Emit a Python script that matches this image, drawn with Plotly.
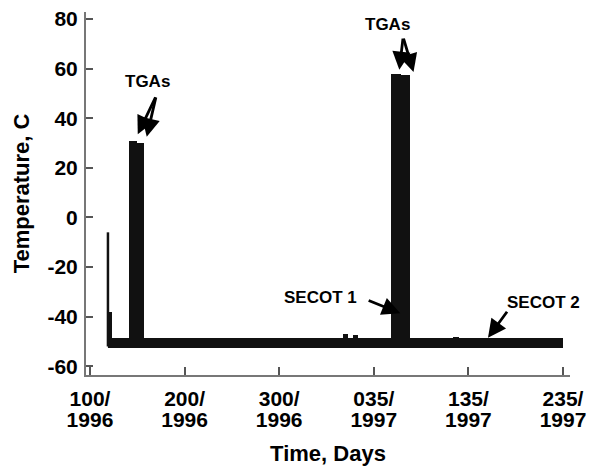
import plotly.graph_objects as go

# ---- data ----
tick_days = [100, 200, 300, 400, 500, 600]
tick_day_text = ["100/", "200/", "300/", "035/", "135/", "235/"]
tick_year_text = ["1996", "1996", "1996", "1997", "1997", "1997"]
y_ticks = [-60, -40, -20, 0, 20, 40, 60, 80]
y_tick_text = ["-60", "-40", "-20", "0", "20", "40", "60", "80"]

baseline_days = [119, 600]
baseline_temp = [-50.6, -50.6]

spike_days = [119, 119]
spike_temp = [-52, -6]

early_block_day = [121]
early_block_top = [-38]
early_block_width = [4]

tga_days = [145.5, 153.5, 423.5, 433.5]
tga_tops = [31, 30, 58, 57.5]
tga_width = [8, 8, 10, 10]

bump_days = [370, 381, 487, 525]
bump_tops = [-47, -47.5, -48, -48.5]
bump_width = [6, 5, 6, 5]

base_level = -52

FONT = "Liberation Sans, Arial, sans-serif"
INK = "#111"

fig = go.Figure()
fig.add_trace(go.Scatter(x=baseline_days, y=baseline_temp, mode="lines",
                         line=dict(color=INK, width=10), showlegend=False))
fig.add_trace(go.Scatter(x=spike_days, y=spike_temp, mode="lines",
                         line=dict(color=INK, width=2.5), showlegend=False))
fig.add_trace(go.Bar(x=early_block_day, y=[t - base_level for t in early_block_top], base=base_level,
                     width=early_block_width, marker=dict(color=INK, line=dict(width=0)), showlegend=False))
fig.add_trace(go.Bar(x=tga_days, y=[t - base_level for t in tga_tops], base=base_level,
                     width=tga_width, marker=dict(color=INK, line=dict(width=0)), showlegend=False))
fig.add_trace(go.Bar(x=bump_days, y=[t - base_level for t in bump_tops], base=base_level,
                     width=bump_width, marker=dict(color=INK, line=dict(width=0)), showlegend=False))
# invisible trace so the year-label axis is drawn
fig.add_trace(go.Scatter(x=baseline_days, y=baseline_temp, xaxis="x2", mode="lines",
                         line=dict(width=0, color="rgba(0,0,0,0)"), hoverinfo="skip", showlegend=False))

anns = []
def label(x, y, text):
    anns.append(dict(x=x, y=y, xref="x", yref="y", text="<b>%s</b>" % text, showarrow=False,
                     font=dict(family=FONT, size=17, color="#000")))
def arrow(x, y, ax, ay):
    anns.append(dict(x=x, y=y, ax=ax, ay=ay, xref="x", yref="y", axref="x", ayref="y",
                     text="", showarrow=True, arrowhead=2, arrowsize=1.3, arrowwidth=2.8,
                     arrowcolor="#000"))

label(161, 54.6, "TGAs")
arrow(150.5, 33.5, 170, 49)
arrow(160, 32.5, 170, 49)
label(415, 77.6, "TGAs")
arrow(427, 59.5, 431, 72.7)
arrow(442, 58.6, 431, 72.7)
label(344, -32.2, "SECOT 1")
arrow(428, -38.6, 393, -33.2)
label(579, -34.2, "SECOT 2")
arrow(520.7, -48.5, 542, -37.4)

xr = [95.8, 607.4]
fig.update_layout(
    width=594, height=466,
    margin=dict(l=86, r=24, t=12, b=91),
    paper_bgcolor="white", plot_bgcolor="white",
    barmode="overlay", bargap=0,
    annotations=anns,
    font=dict(family=FONT, color="#000"),
    xaxis=dict(range=xr, tickvals=tick_days, ticktext=tick_day_text, automargin=False,
               ticks="inside", ticklen=8, tickwidth=1.5, tickcolor="#555",
               showline=True, linecolor="#777", linewidth=2, showgrid=False, zeroline=False,
               tickfont=dict(family=FONT, size=21, weight="bold"),
               ticklabelstandoff=4,
               title=dict(text="Time, Days", font=dict(family=FONT, size=22, weight="bold"), standoff=40)),
    xaxis2=dict(range=xr, overlaying="x", side="bottom", anchor="y", tickvals=tick_days,
                ticktext=tick_year_text, ticks="", showline=False, showgrid=False, zeroline=False,
                automargin=False,
                tickfont=dict(family=FONT, size=21, weight="bold"),
                ticklabelstandoff=30),
    yaxis=dict(range=[-63.5, 82.8], tickvals=y_ticks, ticktext=y_tick_text, automargin=False,
               ticks="inside", ticklen=7, tickwidth=1.5, tickcolor="#555",
               showline=True, linecolor="#777", linewidth=2, showgrid=False, zeroline=False,
               tickfont=dict(family=FONT, size=21, weight="bold"),
               ticklabelstandoff=2,
               title=dict(text="Temperature, C", font=dict(family=FONT, size=22, weight="bold"), standoff=12)),
)

fig.write_html("out.html")
